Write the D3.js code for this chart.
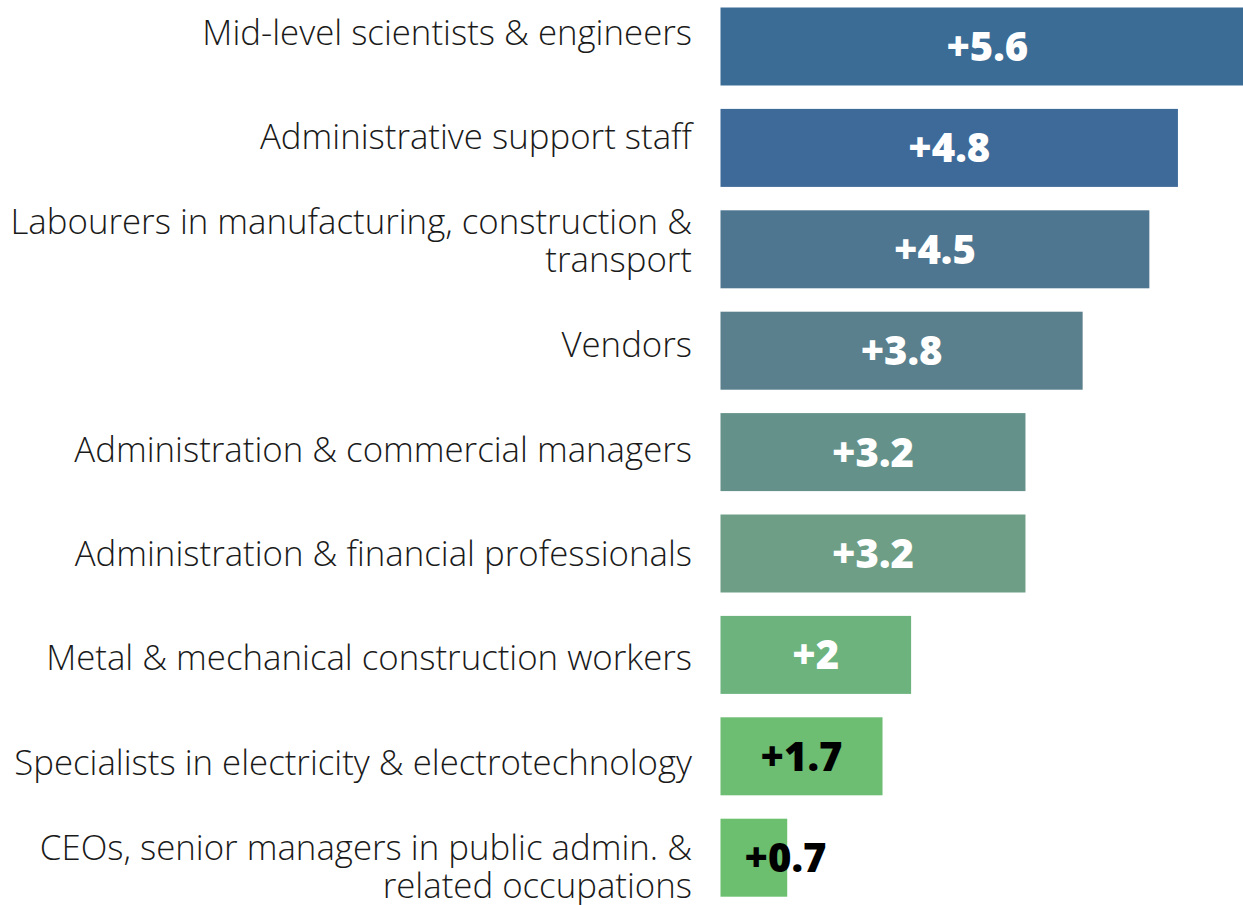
<!DOCTYPE html>
<html>
<head>
<meta charset="utf-8">
<script src="https://cdn.jsdelivr.net/npm/d3@7"></script>
<style>
  html, body { margin: 0; padding: 0; background: #fff; }
  svg { display: block; }
</style>
</head>
<body>
<div id="chart"></div>
<script>
// occupations, top to bottom ("\n" = line break in the label)
const categories = [
  "Mid-level scientists & engineers",
  "Administrative support staff",
  "Labourers in manufacturing, construction &\ntransport",
  "Vendors",
  "Administration & commercial managers",
  "Administration & financial professionals",
  "Metal & mechanical construction workers",
  "Specialists in electricity & electrotechnology",
  "CEOs, senior managers in public admin. &\nrelated occupations"
];

const values = [5.6, 4.8, 4.5, 3.8, 3.2, 3.2, 2, 1.7, 0.7];

// bar colours, blue -> green
const palette = ["#3b6c96", "#3e6a9a", "#4f7690", "#5a7f8d", "#64928a",
                 "#6e9f86", "#6db37e", "#6dbd73", "#6bbf6e"];

const FRAME_WIDTH = 1243;
const FRAME_HEIGHT = 905;

const svg = d3.select("#chart")
  .append("svg")
    .attr("width", FRAME_WIDTH)
    .attr("height", FRAME_HEIGHT);

const x = d3.scaleLinear()
  .domain([0, 5.6])
  .range([720.5, 720.5 + 5.6 * 95.3]);

// bars
const y = d3.scaleBand()
  .domain(categories)
  .range([7.5, 896.7])
  .paddingInner(0.2308)
  .paddingOuter(0);

// labels sit on a slightly different step than the bars
const yLabel = d3.scaleBand()
  .domain(categories)
  .range([-19.65, -19.65 + 9 * 104.3])
  .padding(0);

const color = d3.scaleOrdinal(categories, palette);

const data = categories.map((c, i) => ({cat: c, value: values[i]}));

svg.append("g")
  .selectAll("rect")
  .data(data)
  .enter()
  .append("rect")
    .attr("x", x(0))
    .attr("y", d => y(d.cat))
    .attr("width", d => x(d.value) - x(0))
    .attr("height", y.bandwidth())
    .attr("fill", d => color(d.cat));

// category labels
const labels = svg.append("g")
  .attr("font-family", "'Open Sans', sans-serif")
  .attr("font-weight", 300)
  .attr("font-size", 34.8)
  .attr("fill", "#1a1a1a")
  .attr("text-anchor", "end");

labels.selectAll("text")
  .data(data)
  .enter()
  .append("text")
    .each(function(d) {
      const lines = d.cat.split("\n");
      const c = yLabel(d.cat) + yLabel.bandwidth() / 2;
      const lh = 38;
      const first = c - (lines.length - 1) * lh / 2 + 12;
      d3.select(this).selectAll("tspan")
        .data(lines)
        .enter()
        .append("tspan")
          .attr("x", 692)
          .attr("y", (l, j) => first + j * lh)
          .text(l => l);
    });

// value labels
svg.append("g")
  .attr("font-family", "'Open Sans', sans-serif")
  .attr("font-weight", 800)
  .attr("font-size", 40)
  .attr("text-anchor", "middle")
  .selectAll("text")
  .data(data)
  .enter()
  .append("text")
    .attr("x", d => Math.max((x(0) + x(d.value)) / 2, x(0) + 65))
    .attr("y", d => y(d.cat) + y.bandwidth() / 2 + 14.5)
    .attr("fill", d => d.value < 1.9 ? "#000" : "#fff")
    .text(d => "+" + d.value);
</script>
</body>
</html>
